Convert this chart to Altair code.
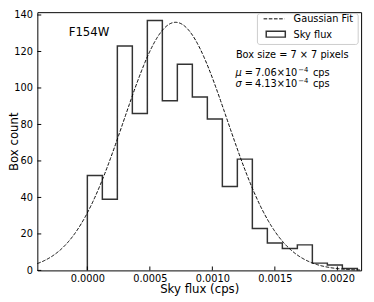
import altair as alt
import pandas as pd

# ---- data ----
bin_edges = [0.0, 0.00012, 0.00024, 0.00036, 0.00048, 0.0006, 0.00072, 0.00084,
             0.00096, 0.00108, 0.0012, 0.00132, 0.00144, 0.00156, 0.00168,
             0.0018, 0.00192, 0.00204, 0.00216]
counts = [52, 39, 123, 86, 137, 93, 113, 95, 83, 46, 61, 23, 15, 12, 14, 4, 3, 1]

MU = 7.06e-4      # Gaussian fit mean (cps)
SIGMA = 4.13e-4   # Gaussian fit sigma (cps)
AMP = 136.0       # Gaussian fit amplitude (box count)

x_ticks = [0.0, 0.0005, 0.001, 0.0015, 0.002]
y_ticks = [0, 20, 40, 60, 80, 100, 120, 140]

FONT = "DejaVu Sans"
W, H = 331, 264

# step outline of the histogram
hx = [bin_edges[0]] + bin_edges[:-1] + [bin_edges[-1], bin_edges[-1]]
hy = [0] + counts + [counts[-1], 0]
hist_df = pd.DataFrame({"x": hx, "y": hy, "i": list(range(len(hx)))})

xscale = alt.Scale(domain=[-0.0004, 0.00219], nice=False, zero=False)
yscale = alt.Scale(domain=[0, 141.55], nice=False, zero=True)

X = alt.X("x:Q", scale=xscale,
          axis=alt.Axis(values=x_ticks, format=".4f", title="Sky flux (cps)",
                        ticks=False, labelPadding=3, domain=False, grid=False,
                        titleY=23, titleBaseline="alphabetic"))
Y = alt.Y("y:Q", scale=yscale,
          axis=alt.Axis(values=y_ticks, format="d", title="Box count",
                        ticks=False, labelPadding=5, domain=False, grid=False,
                        titleX=-20, titleBaseline="alphabetic"))

hist = alt.Chart(hist_df).mark_line(
    interpolate="step-after", color="#333333", strokeWidth=1.5
).encode(x=X, y=Y, order="i:Q")

gauss = alt.Chart(alt.sequence(-0.0004, 0.00219, 0.000005, as_="x")).transform_calculate(
    y=f"{AMP}*exp(-pow(datum.x-{MU},2)/(2*{SIGMA}*{SIGMA}))"
).mark_line(color="black", strokeWidth=1, strokeDash=[3.7, 1.6]).encode(x=X, y=Y)

# inward ticks
xt = alt.Chart(pd.DataFrame({"x": x_ticks})).mark_rule(color="black", strokeWidth=1).encode(
    x=X, y=alt.value(H), y2=alt.value(H - 4))
yt = alt.Chart(pd.DataFrame({"y": y_ticks})).mark_rule(color="black", strokeWidth=1).encode(
    y=Y, x=alt.value(0), x2=alt.value(4))


def txt(s, x, y, size=10, style="normal"):
    return alt.Chart(pd.DataFrame({"t": [s]})).mark_text(
        align="left", baseline="alphabetic", font=FONT, fontSize=size,
        fontStyle=style, color="black"
    ).encode(x=alt.value(x), y=alt.value(y), text="t:N")


def stat_line(sym, mant, y):
    return [
        txt(sym, 202.7, y, style="italic"),
        txt("=", 212, y),
        txt(mant + "×10", 222.5, y),
        txt("−4", 266.7, y - 4.3, size=7),
        txt("cps", 281.7, y),
    ]


one = pd.DataFrame({"t": [""]})
legend_frame = alt.Chart(one).mark_rect(
    fill="white", fillOpacity=0.8, stroke="#cccccc", strokeWidth=1, cornerRadius=2.5
).encode(x=alt.value(225), x2=alt.value(328), y=alt.value(1.5), y2=alt.value(33))
legend_line = alt.Chart(one).mark_rule(
    color="black", strokeWidth=1, strokeDash=[3.7, 1.6]
).encode(x=alt.value(231.3), x2=alt.value(252.7), y=alt.value(6.8))
legend_rect = alt.Chart(one).mark_rect(
    fill="white", stroke="#333333", strokeWidth=1.5
).encode(x=alt.value(234), x2=alt.value(253.5), y=alt.value(19.5), y2=alt.value(25.5))

layers = [
    hist, gauss, xt, yt,
    legend_frame, legend_line, legend_rect,
    txt("Gaussian Fit", 262, 10.3),
    txt("Sky flux", 262, 26.4),
    txt("F154W", 32, 24.3, size=12),
    txt("Box size = 7 × 7 pixels", 203, 47),
] + stat_line("μ", "7.06", 65) + stat_line("σ", "4.13", 76.7)

chart = alt.layer(*layers).properties(
    width=W, height=H,
    padding={"left": 30, "top": 1, "right": 5, "bottom": 28},
    autosize=alt.AutoSizeParams(type="none"),
).configure_view(
    stroke="black", strokeWidth=1
).configure_axis(
    labelFont=FONT, titleFont=FONT, labelFontSize=10, titleFontSize=12,
    titleFontWeight="normal", labelColor="black", titleColor="black"
)

chart.save("out.html", embed_options={"renderer": "svg", "actions": False})
